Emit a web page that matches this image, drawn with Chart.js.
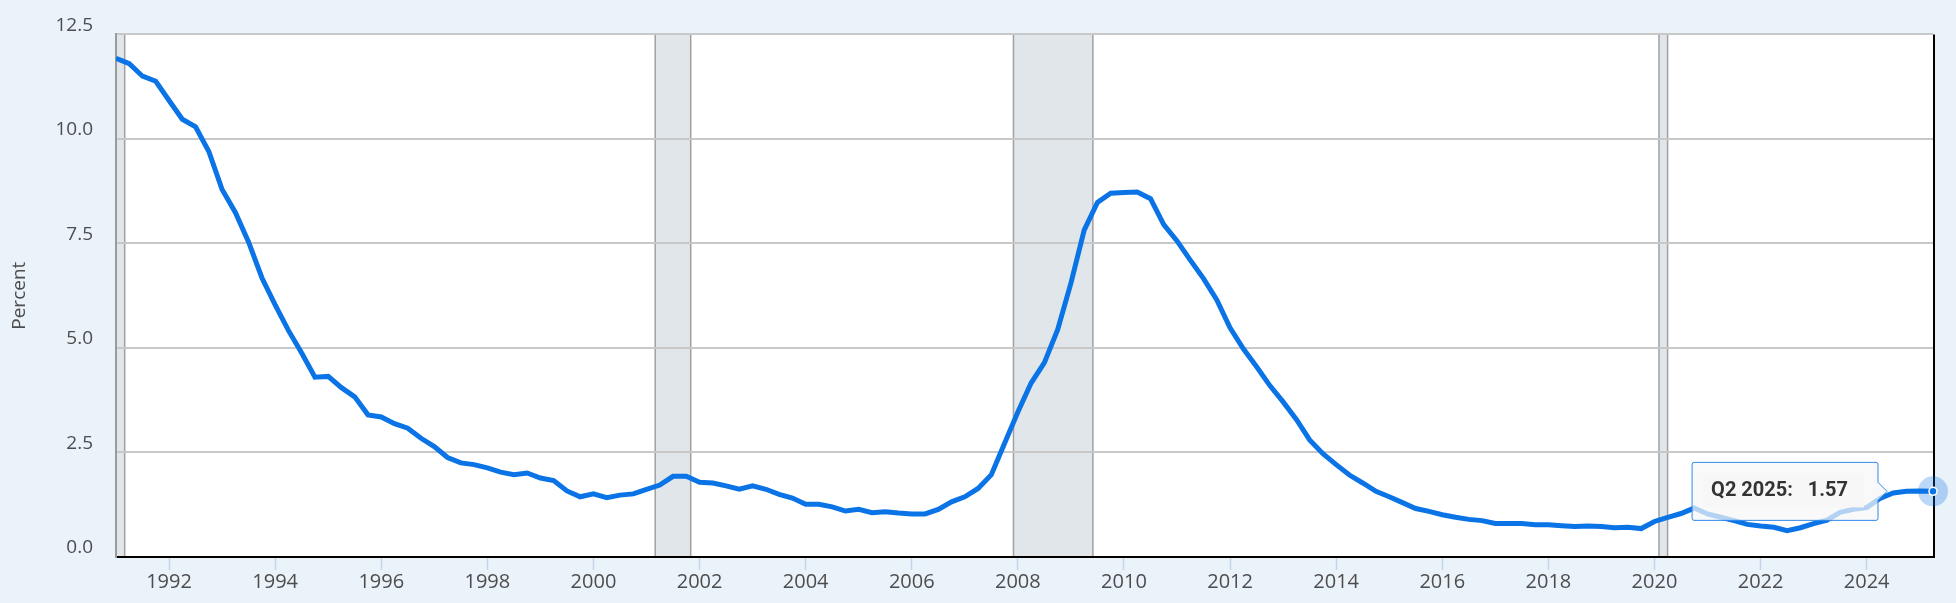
<!DOCTYPE html>
<html>
<head>
<meta charset="utf-8">
<script src="https://cdn.jsdelivr.net/npm/chart.js@4.4.1/dist/chart.umd.min.js"></script>
<style>
    html, body { margin: 0; padding: 0; background: #eaf2fa; }
</style>
</head>
<body>
<canvas id="graphique" width="1956" height="603"></canvas>
<script>
// Quarterly values, Q1 1991 .. Q2 2025 (percent)
const premiereAnnee = 1991;
const valeurs = [
    11.93, 11.80, 11.50, 11.38, 10.92, 10.47, 10.29, 9.70, 8.79, 8.24,
    7.53, 6.68, 6.03, 5.42, 4.88, 4.30, 4.32, 4.05, 3.83, 3.40,
    3.35, 3.19, 3.08, 2.84, 2.64, 2.38, 2.25, 2.21, 2.13, 2.03,
    1.97, 2.01, 1.89, 1.83, 1.58, 1.44, 1.51, 1.42, 1.48, 1.51,
    1.62, 1.72, 1.93, 1.93, 1.79, 1.77, 1.70, 1.62, 1.70, 1.62,
    1.50, 1.41, 1.26, 1.26, 1.20, 1.10, 1.14, 1.06, 1.08, 1.05,
    1.03, 1.03, 1.14, 1.32, 1.44, 1.64, 1.97, 2.72, 3.47, 4.16,
    4.65, 5.44, 6.55, 7.82, 8.48, 8.70, 8.72, 8.73, 8.57, 7.95,
    7.56, 7.10, 6.66, 6.15, 5.48, 4.98, 4.55, 4.10, 3.71, 3.29,
    2.80, 2.47, 2.21, 1.96, 1.77, 1.57, 1.44, 1.30, 1.16, 1.09,
    1.01, 0.95, 0.90, 0.87, 0.80, 0.80, 0.80, 0.77, 0.77, 0.75,
    0.73, 0.74, 0.73, 0.70, 0.71, 0.68, 0.85, 0.95, 1.04, 1.17,
    1.03, 0.95, 0.87, 0.78, 0.74, 0.71, 0.63, 0.70, 0.80, 0.88,
    1.07, 1.14, 1.18, 1.40, 1.53, 1.57, 1.58, 1.57
];

// x tick labels (years) and y ticks
const anneesAxe = [1992, 1994, 1996, 1998, 2000, 2002, 2004, 2006, 2008,
    2010, 2012, 2014, 2016, 2018, 2020, 2022, 2024];
const graduationsY = [0, 2.5, 5, 7.5, 10, 12.5];

// Recession periods (fractional years)
const debutsRecession = [1990.5, 2001.164, 2007.917, 2020.085];
const finsRecession = [1991.164, 2001.833, 2009.414, 2020.247];

const etiquettesTrimestres = valeurs.map((v, i) =>
    'Q' + (i % 4 + 1) + ' ' + (premiereAnnee + Math.floor(i / 4)));
const points = valeurs.map((v, i) => ({ x: premiereAnnee + i / 4, y: v }));

const bleu = '#0a74e6';

const fondEtRecessions = {
    id: 'fondEtRecessions',
    beforeDraw(chart) {
        const { ctx, chartArea: a, scales: { x } } = chart;
        ctx.save();
        ctx.fillStyle = '#eaf2fa';
        ctx.fillRect(0, 0, chart.width, chart.height);
        ctx.fillStyle = '#ffffff';
        ctx.fillRect(a.left, a.top, a.right - a.left, a.bottom - a.top);
        debutsRecession.forEach((debut, k) => {
            const x1 = Math.max(x.getPixelForValue(debut), a.left);
            const x2 = Math.min(x.getPixelForValue(finsRecession[k]), a.right);
            ctx.fillStyle = '#e1e6eb';
            ctx.fillRect(x1, a.top, x2 - x1, a.bottom - a.top);
            ctx.strokeStyle = '#a0a0a0';
            ctx.lineWidth = 1.5;
            ctx.beginPath();
            ctx.moveTo(x1, a.top); ctx.lineTo(x1, a.bottom);
            ctx.moveTo(x2, a.top); ctx.lineTo(x2, a.bottom);
            ctx.stroke();
        });
        ctx.restore();
    },
    afterDatasetsDraw(chart) {
        const { ctx, chartArea: a } = chart;
        ctx.save();
        // right frame line
        ctx.strokeStyle = '#000';
        ctx.lineWidth = 2;
        ctx.beginPath();
        ctx.moveTo(a.right + 1, a.top);
        ctx.lineTo(a.right + 1, a.bottom + 1);
        ctx.stroke();

        // inner panel of the tooltip
        const tt = chart.tooltip;
        if (tt && tt.opacity > 0) {
            ctx.fillStyle = '#f7f7f7';
            ctx.fillRect(tt.x + 11, tt.y + 11, tt.width - 25, tt.height - 24);
        }

        // highlighted last point
        const meta = chart.getDatasetMeta(0);
        const p = meta.data[meta.data.length - 1];
        ctx.fillStyle = 'rgba(10, 116, 230, 0.28)';
        ctx.beginPath();
        ctx.arc(p.x, p.y, 15, 0, Math.PI * 2);
        ctx.fill();
        ctx.fillStyle = bleu;
        ctx.strokeStyle = '#ffffff';
        ctx.lineWidth = 1.5;
        ctx.beginPath();
        ctx.arc(p.x, p.y, 4, 0, Math.PI * 2);
        ctx.fill();
        ctx.stroke();
        ctx.restore();
    }
};

const ctx = document.getElementById('graphique').getContext('2d');
const graphique = new Chart(ctx, {
    type: 'line',
    data: {
        datasets: [{
            label: 'Percent',
            data: points,
            borderColor: bleu,
            borderWidth: 5,
            pointRadius: 0,
            pointHoverRadius: 0,
            fill: false,
            tension: 0
        }]
    },
    options: {
        responsive: false,
        animation: false,
        events: [],
        layout: { padding: { left: 0, right: 23, top: 29, bottom: 0 } },
        scales: {
            x: {
                type: 'linear',
                min: premiereAnnee,
                max: 2025.25,
                afterBuildTicks: (scale) => {
                    scale.ticks = anneesAxe.map(v => ({ value: v }));
                },
                afterFit: (scale) => { scale.height = 46; },
                grid: {
                    drawOnChartArea: false,
                    drawTicks: true,
                    tickLength: 13,
                    tickColor: '#c6d6ea',
                    tickWidth: 1.5
                },
                border: { color: '#000000', width: 2 },
                ticks: {
                    autoSkip: false,
                    maxRotation: 0,
                    padding: 0,
                    color: '#4d4d4d',
                    font: { family: 'Open Sans', size: 20 },
                    callback: (v) => String(v)
                }
            },
            y: {
                min: 0,
                max: 12.5,
                afterBuildTicks: (scale) => {
                    scale.ticks = graduationsY.map(v => ({ value: v }));
                },
                afterFit: (scale) => { scale.width = 116; },
                grid: {
                    color: '#c8c8c8',
                    lineWidth: 2,
                    drawTicks: false
                },
                border: { color: '#9a9a9a', width: 2 },
                ticks: {
                    padding: 23,
                    labelOffset: -9,
                    color: '#4d4d4d',
                    font: { family: 'Open Sans', size: 19 },
                    callback: (v) => v.toFixed(1)
                },
                title: {
                    display: true,
                    text: 'Percent',
                    color: '#4d4d4d',
                    font: { family: 'Open Sans', size: 19 },
                    padding: { top: 8, bottom: 0 }
                }
            }
        },
        plugins: {
            legend: { display: false },
            tooltip: {
                enabled: true,
                animation: false,
                position: 'nearest',
                xAlign: 'right',
                yAlign: 'center',
                caretSize: 9,
                caretPadding: 46,
                backgroundColor: 'rgba(247, 247, 247, 0.72)',
                borderColor: '#2f88ea',
                borderWidth: 1,
                cornerRadius: 2,
                displayColors: false,
                padding: { top: 17, bottom: 17, left: 19, right: 30 },
                bodyFont: { family: 'Roboto', size: 20, weight: 'bold' },
                bodyColor: '#333333',
                callbacks: {
                    title: () => [],
                    label: (item) => etiquettesTrimestres[item.dataIndex] + ':   ' + item.parsed.y.toFixed(2)
                }
            }
        }
    },
    plugins: [fondEtRecessions]
});

// show the tooltip on the last observation, as in the reference
const dernier = valeurs.length - 1;
const pointFinal = graphique.getDatasetMeta(0).data[dernier];
graphique.tooltip.setActiveElements([{ datasetIndex: 0, index: dernier }], { x: pointFinal.x, y: pointFinal.y });
graphique.update();
</script>
</body>
</html>
